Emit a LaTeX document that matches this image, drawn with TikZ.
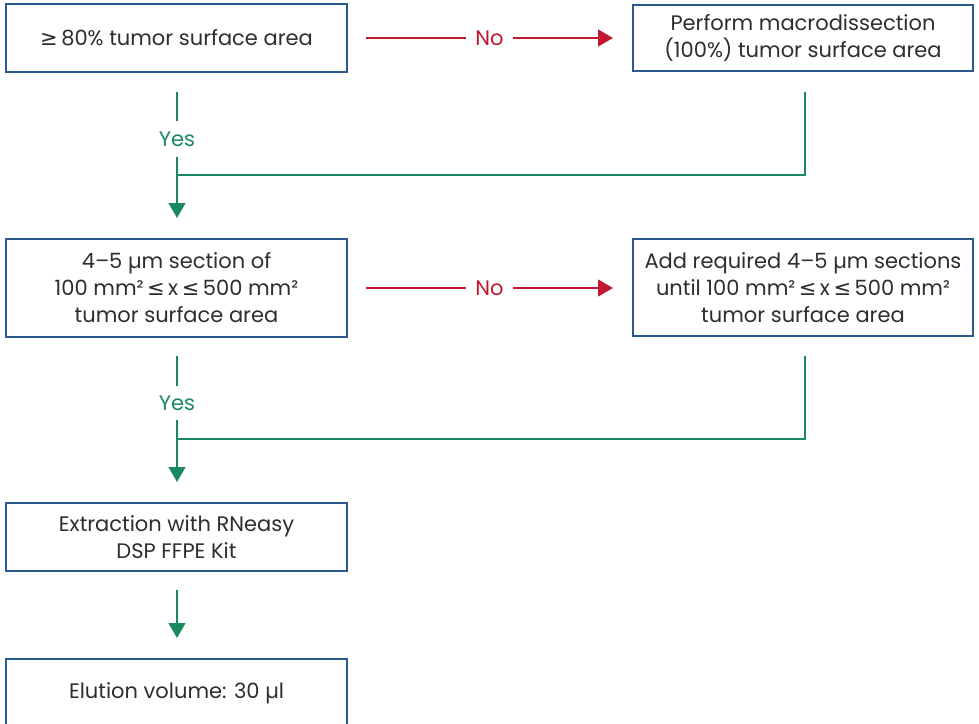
\documentclass[tikz,border=0pt]{standalone}
\usepackage{fontspec}
\setmainfont{Poppins}
\newfontfamily\symfont{DejaVu Sans}
\newcommand{\mygeq}{{\symfont ≥}}
\newcommand{\myleq}{{\symfont ≤}}
\usetikzlibrary{arrows.meta}
\definecolor{boxblue}{HTML}{2A5A8E}
\definecolor{noRed}{HTML}{C0182E}
\definecolor{yesGreen}{HTML}{1A8A5E}
\definecolor{txt}{HTML}{2E2E2E}
\tikzset{
  stepbox/.style={draw=boxblue, line width=1.7pt, fill=white, text=txt, align=center,
    minimum width=341pt, inner sep=0pt, font=\fontsize{21}{27}\selectfont},
  nolink/.style={draw=noRed, line width=1.3pt, -{Triangle[length=15pt,width=17pt]}},
  nolabel/.style={fill=white, text=noRed, inner sep=9pt, font=\fontsize{21}{27}\selectfont},
  yeslink/.style={draw=yesGreen, line width=1.1pt},
  yesarrow/.style={draw=yesGreen, line width=1.1pt, -{Triangle[length=15pt,width=17pt]}},
  yeslabel/.style={text=yesGreen, inner sep=0pt, font=\fontsize{21}{27}\selectfont},
}
\begin{document}
\begin{tikzpicture}[x=1pt,y=-1pt]
\clip (0,0) rectangle (979,723);
\useasboundingbox (0,0) rectangle (979,723);
\fill[white] (0,0) rectangle (979,723);

\node[stepbox, minimum height=68pt] (b1) at (176.5,38) {\mygeq\,80\% tumor surface area};
\node[stepbox, minimum width=340pt, minimum height=66pt] (b2) at (803,38) {Perform macrodissection\\(100\%) tumor surface area};
\node[stepbox, minimum height=98pt] (b3) at (176.5,288) {4–5 µm section of\\100 mm²\,\myleq\,x\,\myleq\,500 mm²\\tumor surface area};
\node[stepbox, minimum width=340pt, minimum height=97pt] (b4) at (803,287.5) {Add required 4–5 µm sections\\until 100 mm²\,\myleq\,x\,\myleq\,500 mm²\\tumor surface area};
\node[stepbox, minimum height=68pt] (b5) at (176.5,537) {Extraction with RNeasy\\DSP FFPE Kit};
\node[stepbox, minimum height=68pt] (b6) at (176.5,693) {Elution volume: 30 µl};

% No arrows
\coordinate (n1s) at (366,38);
\coordinate (n1e) at (613,38);
\draw[nolink] (n1s) -- node[nolabel] (no1) {No} (n1e);
\coordinate (n2s) at (366,288);
\coordinate (n2e) at (613,288);
\draw[nolink] (n2s) -- node[nolabel] (no2) {No} (n2e);

% Yes 1
\coordinate (y1a) at (177,92);
\coordinate (y1b) at (177,121);
\node[yeslabel] (yes1) at (177,139) {Yes};
\coordinate (y1c) at (177,157);
\coordinate (y1d) at (177,218);
\coordinate (m1) at (177,175);
\coordinate (r1a) at (805,92);
\coordinate (r1b) at (805,175);
\draw[yeslink] (y1a) -- (y1b);
\draw[yesarrow] (y1c) -- (y1d);
\draw[yeslink] (r1a) -- (r1b) -- (m1);

% Yes 2
\coordinate (y2a) at (177,356);
\coordinate (y2b) at (177,386);
\node[yeslabel] (yes2) at (177,403) {Yes};
\coordinate (y2c) at (177,420);
\coordinate (y2d) at (177,482);
\coordinate (m2) at (177,439);
\coordinate (r2a) at (805,356);
\coordinate (r2b) at (805,439);
\draw[yeslink] (y2a) -- (y2b);
\draw[yesarrow] (y2c) -- (y2d);
\draw[yeslink] (r2a) -- (r2b) -- (m2);

% Extraction -> Elution
\coordinate (e1) at (177,590);
\coordinate (e2) at (177,638);
\draw[yesarrow] (e1) -- (e2);
\end{tikzpicture}
\end{document}
